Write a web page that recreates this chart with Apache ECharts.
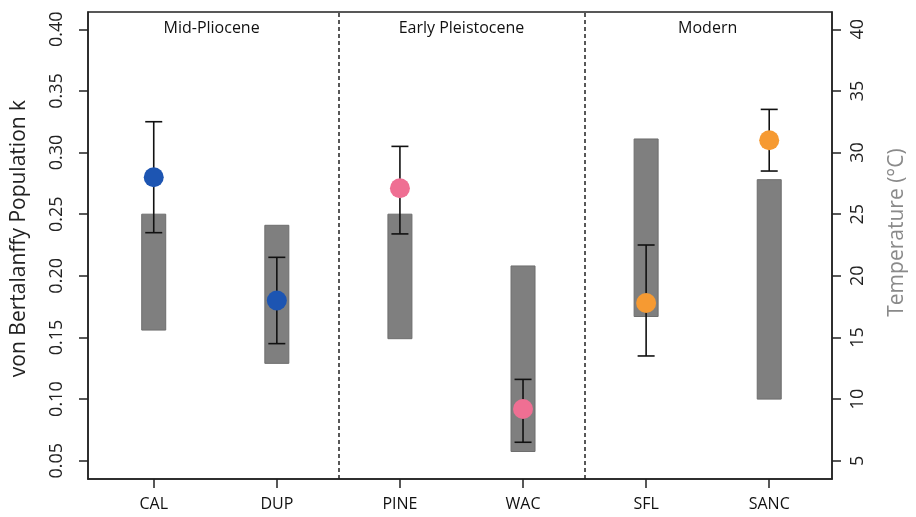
<!DOCTYPE html>
<html>
<head>
<meta charset="utf-8">
<script src="https://cdn.jsdelivr.net/npm/echarts@6/dist/echarts.min.js"></script>
<style>html,body{margin:0;padding:0;background:#fff;}#chart{width:916px;height:517px;}</style>
</head>
<body>
<div id="chart"></div>
<script>
const categories = ['CAL', 'DUP', 'PINE', 'WAC', 'SFL', 'SANC'];
const xPositions = [1, 2, 3, 4, 5, 6];
const kMean = [0.280, 0.180, 0.271, 0.092, 0.178, 0.310];
const kLow = [0.235, 0.145, 0.234, 0.065, 0.135, 0.285];
const kHigh = [0.325, 0.215, 0.305, 0.116, 0.225, 0.335];
const tempLow = [15.6, 12.9, 14.9, 5.75, 16.7, 10.0];
const tempHigh = [25.0, 24.1, 25.0, 20.8, 31.1, 27.8];
const pointColors = ['#1d55b2', '#1d55b2', '#ef6f93', '#ef6f93', '#f69a32', '#f69a32'];
const periods = ['Mid-Pliocene', 'Early Pleistocene', 'Modern'];
const periodX = [1.47, 3.5, 5.5];
const dividers = [2.5, 4.5];
const kTicks = [0.05, 0.10, 0.15, 0.20, 0.25, 0.30, 0.35, 0.40];
const tempTicks = [5, 10, 15, 20, 25, 30, 35, 40];

const FONT = "'Open Sans', sans-serif";
const chart = echarts.init(document.getElementById('chart'), null, {renderer: 'canvas'});

const barData = xPositions.map((x, i) => [x, tempLow[i], tempHigh[i]]);
const errData = xPositions.map((x, i) => [x, kLow[i], kHigh[i]]);
const pointData = xPositions.map((x, i) => ({value: [x, kMean[i]], itemStyle: {color: pointColors[i]}}));
const periodData = periodX.map(x => [x, 0.401]);

chart.setOption({
  animation: false,
  backgroundColor: '#fff',
  grid: {left: 88, right: 79, top: 12, bottom: 38, show: true, borderColor: '#222', borderWidth: 1.5, backgroundColor: 'transparent'},
  xAxis: {
    type: 'value', min: 0.466, max: 6.51,
    axisLine: {show: true, lineStyle: {color: '#222', width: 1.5}},
    axisTick: {show: true, customValues: xPositions, length: 9, lineStyle: {color: '#222', width: 1.5}},
    axisLabel: {customValues: xPositions, margin: 17, color: '#111', fontSize: 16, fontFamily: FONT,
      formatter: v => categories[xPositions.indexOf(Math.round(v))] || ''},
    splitLine: {show: false}
  },
  yAxis: [{
    type: 'value', min: 0.0352, max: 0.414, position: 'left',
    name: 'von Bertalanffy Population k', nameLocation: 'middle', nameGap: 58,
    nameTextStyle: {fontSize: 21, color: '#222', fontFamily: FONT, padding: [0, 0, 0, 14]},
    axisLine: {show: true, lineStyle: {color: '#222', width: 1.5}},
    axisTick: {show: true, customValues: kTicks, length: 9, lineStyle: {color: '#222', width: 1.5}},
    axisLabel: {customValues: kTicks, rotate: 90, margin: 22, fontSize: 18, color: '#222', fontFamily: FONT,
      formatter: v => v.toFixed(2)},
    splitLine: {show: false}
  }, {
    type: 'value', min: 3.52, max: 41.4, position: 'right',
    name: 'Temperature (°C)', nameLocation: 'middle', nameGap: 55,
    nameTextStyle: {fontSize: 21, color: '#8a8a8a', fontFamily: FONT, padding: [0, 0, 0, 26]},
    axisLine: {show: true, lineStyle: {color: '#222', width: 1.5}},
    axisTick: {show: true, customValues: tempTicks, length: 9, lineStyle: {color: '#222', width: 1.5}},
    axisLabel: {customValues: tempTicks, rotate: 90, margin: 17, fontSize: 18, color: '#222', fontFamily: FONT},
    splitLine: {show: false}
  }],
  series: [
    {
      name: 'Temperature range', type: 'custom', yAxisIndex: 1, data: barData, z: 2,
      renderItem: (params, api) => {
        const x = api.value(0);
        const top = api.coord([x, api.value(2)]);
        const bot = api.coord([x, api.value(1)]);
        const w = 24;
        return {type: 'rect', shape: {x: top[0] - w / 2, y: top[1], width: w, height: bot[1] - top[1]},
          style: {fill: '#7f7f7f', stroke: '#6e6e6e', lineWidth: 1}};
      },
      markLine: {
        silent: true, symbol: 'none', label: {show: false},
        lineStyle: {color: '#222', type: [4, 3], width: 1.5},
        data: dividers.map(d => ({xAxis: d}))
      }
    },
    {
      name: 'k error', type: 'custom', yAxisIndex: 0, data: errData, z: 3,
      renderItem: (params, api) => {
        const x = api.value(0);
        const lo = api.coord([x, api.value(1)]);
        const hi = api.coord([x, api.value(2)]);
        const cw = 8.5;
        const st = {stroke: '#111', lineWidth: 1.6};
        return {type: 'group', children: [
          {type: 'line', shape: {x1: lo[0], y1: lo[1], x2: hi[0], y2: hi[1]}, style: st},
          {type: 'line', shape: {x1: lo[0] - cw, y1: lo[1], x2: lo[0] + cw, y2: lo[1]}, style: st},
          {type: 'line', shape: {x1: hi[0] - cw, y1: hi[1], x2: hi[0] + cw, y2: hi[1]}, style: st}
        ]};
      }
    },
    {
      name: 'k', type: 'scatter', yAxisIndex: 0, data: pointData, symbol: 'circle', symbolSize: 20, z: 4,
      itemStyle: {opacity: 1}
    },
    {
      name: 'periods', type: 'custom', yAxisIndex: 0, data: periodData, z: 5, silent: true,
      renderItem: (params, api) => {
        const p = api.coord([api.value(0), api.value(1)]);
        return {type: 'text', x: p[0], y: p[1],
          style: {text: periods[params.dataIndex], fill: '#111', fontSize: 16, fontFamily: FONT,
            align: 'center', verticalAlign: 'middle'}};
      }
    }
  ]
});
</script>
</body>
</html>
